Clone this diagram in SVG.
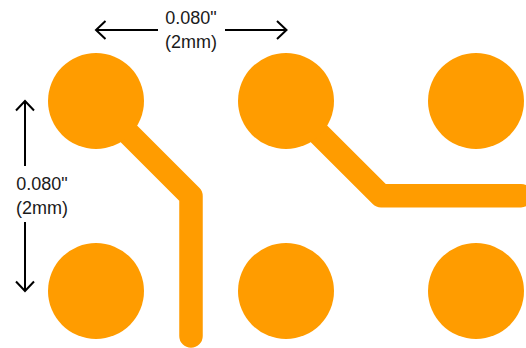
<svg xmlns="http://www.w3.org/2000/svg" width="526" height="348" viewBox="0 0 526 348">
<style>
.pad{fill:#ff9c00}
.trace{fill:none;stroke:#ff9c00;stroke-width:23.5;stroke-linecap:round;stroke-linejoin:round}
.dim{fill:none;stroke:#000;stroke-width:2}
text{font-family:"Liberation Sans",Arial,sans-serif;font-size:18px;fill:#1a1a1a;text-anchor:middle}
</style>
<rect width="526" height="348" fill="#fff"/>
<g id="connectors">
<path class="trace" d="M96 101L191 196V336"/>
<path class="trace" d="M286 101L381 195.7H521"/>
<path class="dim" d="M158 30H96M105.500 21L96 30L105.500 39M225 30H286M277 21L286.500 30L277 39"/>
<path class="dim" d="M25 166V101M16 110.500L25 101L34 110.500M25 222V291M16 281.500L25 291L34 281.500"/>
</g>
<g id="pad-1"><circle class="pad" cx="96" cy="101" r="48"/></g>
<g id="pad-2"><circle class="pad" cx="286" cy="101" r="48"/></g>
<g id="pad-3"><circle class="pad" cx="476" cy="101" r="48"/></g>
<g id="pad-4"><circle class="pad" cx="96" cy="291" r="48"/></g>
<g id="pad-5"><circle class="pad" cx="286" cy="291" r="48"/></g>
<g id="pad-6"><circle class="pad" cx="476" cy="291" r="48"/></g>
<g id="label-horizontal"><text x="191" y="24">0.080"</text><text x="191" y="48">(2mm)</text></g>
<g id="label-vertical"><text x="42" y="190">0.080"</text><text x="42" y="214">(2mm)</text></g>
</svg>
